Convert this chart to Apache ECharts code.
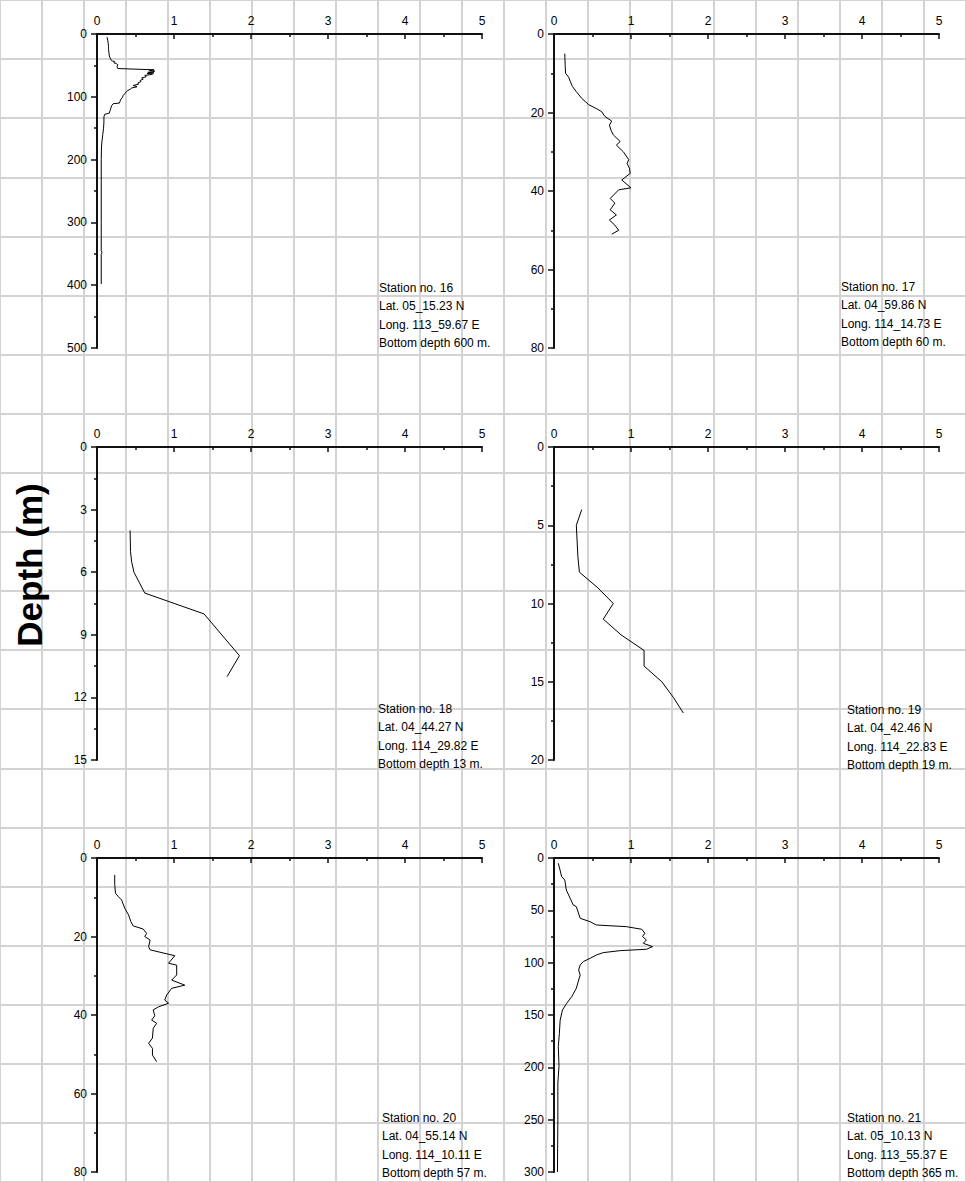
<!DOCTYPE html>
<html><head><meta charset="utf-8">
<script src="https://cdn.jsdelivr.net/npm/echarts@6/dist/echarts.min.js"></script>
<style>html,body{margin:0;padding:0;background:#fff}#c{width:966px;height:1182px}</style>
</head><body><div id="c"></div>
<script>
// ---- Data (depth in m, value on 0-5 axis) ----
const st16Depth = [5,10,15,20,25,30,35,38,41,43,44,46,47,49,52,55,56,57,58,59,60,61,62,63,64,65,66,68,70,72,74,76,78,80,82,84,86,88,90,92,95,98,101,104,107,110,111,114,118,122,126,128,132,140,150,160,170,180,200,250,300,345,348,351,398];
const st16Value = [0.13,0.14,0.145,0.15,0.15,0.155,0.16,0.17,0.18,0.2,0.23,0.22,0.25,0.27,0.26,0.27,0.27,0.74,0.68,0.75,0.72,0.66,0.74,0.65,0.72,0.68,0.62,0.64,0.58,0.60,0.56,0.57,0.53,0.54,0.47,0.52,0.45,0.43,0.40,0.38,0.36,0.34,0.33,0.31,0.30,0.29,0.21,0.19,0.18,0.17,0.16,0.10,0.09,0.09,0.085,0.075,0.065,0.058,0.055,0.055,0.055,0.055,0.065,0.055,0.055];

const st17Depth = [5,8,10,11,12,13.4,14.7,16.4,18,19,19.8,21,22.2,23.2,24.5,25.7,27.4,28.3,30,32,33,34.2,35.5,37.2,39.2,39.7,41.9,43.1,44.8,46.1,47.4,48.7,50,51];
const st17Value = [0.14,0.145,0.15,0.19,0.21,0.24,0.29,0.36,0.45,0.55,0.62,0.66,0.75,0.72,0.74,0.77,0.86,0.81,0.90,0.97,0.95,0.98,0.99,0.88,1.0,0.84,0.73,0.79,0.73,0.81,0.72,0.79,0.84,0.75];

const st18Depth = [4,5,5.5,6,7,8,10,11];
const st18Value = [0.43,0.435,0.45,0.48,0.62,1.39,1.85,1.69];

const st19Depth = [4,5,6,7,8,9,10,11,12,13,14,15,16,17];
const st19Value = [0.36,0.29,0.30,0.31,0.33,0.57,0.77,0.64,0.87,1.17,1.17,1.40,1.55,1.68];

const st20Depth = [4.3,6.7,9,9.9,10.7,12.8,14.5,16.2,17.3,18.1,19.2,20,20.9,22.6,23.4,24.9,26.8,27.3,29.8,31.1,32.4,33.2,34.9,36.2,37,37.9,38.7,40.2,41.3,42.1,43.4,45.9,47.2,48.5,50.2,51.9];
const st20Value = [0.23,0.23,0.24,0.28,0.32,0.36,0.41,0.44,0.47,0.60,0.645,0.62,0.69,0.67,0.69,1.01,0.93,1.035,1.035,0.97,1.14,0.97,0.905,0.88,0.93,0.80,0.73,0.75,0.71,0.775,0.73,0.72,0.67,0.72,0.72,0.775];

const st21Depth = [5,17.8,21,30.6,44.9,46.5,57.6,60.9,64,65.6,68.1,71.9,75,78.3,81.5,84.7,87.2,88.5,90.4,92.7,95.8,99,102.2,107,111.8,116.6,124.5,132.5,138.8,145.2,154.8,167.5,180,199,215,250,300];
const st21Value = [0.056,0.10,0.14,0.16,0.25,0.29,0.34,0.47,0.55,0.94,1.14,1.18,1.15,1.20,1.16,1.28,1.20,0.86,0.64,0.55,0.47,0.38,0.34,0.32,0.34,0.32,0.29,0.23,0.165,0.11,0.08,0.07,0.056,0.065,0.05,0.05,0.045];

// ---- Axis / label settings ----
const xTicks = [0,1,2,3,4,5];
const depthMax = [500, 80, 15, 20, 80, 300];
const depthInterval = [100, 20, 3, 5, 20, 50];
const stationNo = ['16','17','18','19','20','21'];
const latText = ['05_15.23 N','04_59.86 N','04_44.27 N','04_42.46 N','04_55.14 N','05_10.13 N'];
const longText = ['113_59.67 E','114_14.73 E','114_29.82 E','114_22.83 E','114_10.11 E','113_55.37 E'];
const bottomDepth = ['600','60','13','19','57','365'];
const yTitle = 'Depth (m)';

const depths = [st16Depth, st17Depth, st18Depth, st19Depth, st20Depth, st21Depth];
const values = [st16Value, st17Value, st18Value, st19Value, st20Value, st21Value];

// ---- Layout ----
const panelRects = [
  {left:97, top:34, width:385, height:314},
  {left:554, top:34, width:385, height:314},
  {left:97, top:447, width:385, height:313},
  {left:554, top:447, width:385, height:313},
  {left:97, top:858, width:385, height:314},
  {left:554, top:858, width:385, height:314}
];
const annPos = [
  {left:379, top:279},{left:841, top:278},
  {left:378, top:700},{left:847, top:701},
  {left:382, top:1109},{left:847, top:1109}
];
const FONT = '"Liberation Sans", Arial, sans-serif';
const AXC = '#111';

const grids = [{left:-25.7, top:-11.77, width:1035, height:1215.4, z:0}];
const xAxes = [{gridIndex:0, type:'value', min:0, max:23, interval:1, axisLine:{show:false}, axisTick:{show:false}, axisLabel:{show:false}, splitLine:{show:true, lineStyle:{color:'#d3d3d3', width:2}}, z:0}];
const yAxes = [{gridIndex:0, type:'value', min:0, max:20, interval:1, inverse:true, axisLine:{show:false}, axisTick:{show:false}, axisLabel:{show:false}, splitLine:{show:true, lineStyle:{color:'#d3d3d3', width:2}}, z:0}];
const series = [];
const titles = [];

for (let i = 0; i < 6; i++) {
  grids.push(Object.assign({}, panelRects[i]));
  xAxes.push({
    gridIndex:i+1, type:'value', position:'top', min:xTicks[0], max:xTicks[xTicks.length-1], interval:1,
    axisLine:{onZero:false, lineStyle:{color:AXC, width:2}},
    axisTick:{inside:true, length:5, lineStyle:{color:AXC, width:1.5}},
    minorTick:{show:true, splitNumber:2, length:3, lineStyle:{color:AXC, width:1.5}},
    axisLabel:{margin:7, fontSize:12, fontFamily:FONT, color:'#000'},
    splitLine:{show:false}, z:5
  });
  yAxes.push({
    gridIndex:i+1, type:'value', inverse:true, min:0, max:depthMax[i], interval:depthInterval[i],
    axisLine:{onZero:false, lineStyle:{color:AXC, width:2}},
    axisTick:{inside:false, length:6, lineStyle:{color:AXC, width:1.5}},
    minorTick:{show:true, splitNumber:2, length:3, lineStyle:{color:AXC, width:1.5}},
    axisLabel:{margin:10, fontSize:12, fontFamily:FONT, color:'#000'},
    splitLine:{show:false}, z:5
  });
  series.push({
    type:'line', xAxisIndex:i+1, yAxisIndex:i+1,
    data: depths[i].map((d,k)=>[values[i][k], d]),
    showSymbol:false, symbol:'none', silent:true,
    lineStyle:{color:'#000', width:1}, z:6
  });
  titles.push({
    text: ['Station no. ' + stationNo[i], 'Lat. ' + latText[i], 'Long. ' + longText[i], 'Bottom depth ' + bottomDepth[i] + ' m.'].join('\n'),
    left: annPos[i].left, top: annPos[i].top, padding:0,
    textStyle:{fontFamily:FONT, fontSize:12, fontWeight:'normal', color:'#000', lineHeight:18.3}
  });
}

const chart = echarts.init(document.getElementById('c'), null, {renderer:'svg', width:966, height:1182});
chart.setOption({
  animation:false,
  backgroundColor:'#fff',
  title: titles,
  grid: grids,
  xAxis: xAxes,
  yAxis: yAxes,
  series: series,
  graphic: [{
    type:'text', x:29, y:565, rotation:Math.PI/2, z:10,
    style:{text:yTitle, font:'bold 35px ' + FONT, fill:'#000', align:'center', verticalAlign:'middle', textAlign:'center', textVerticalAlign:'middle'}
  }]
});
</script></body></html>
